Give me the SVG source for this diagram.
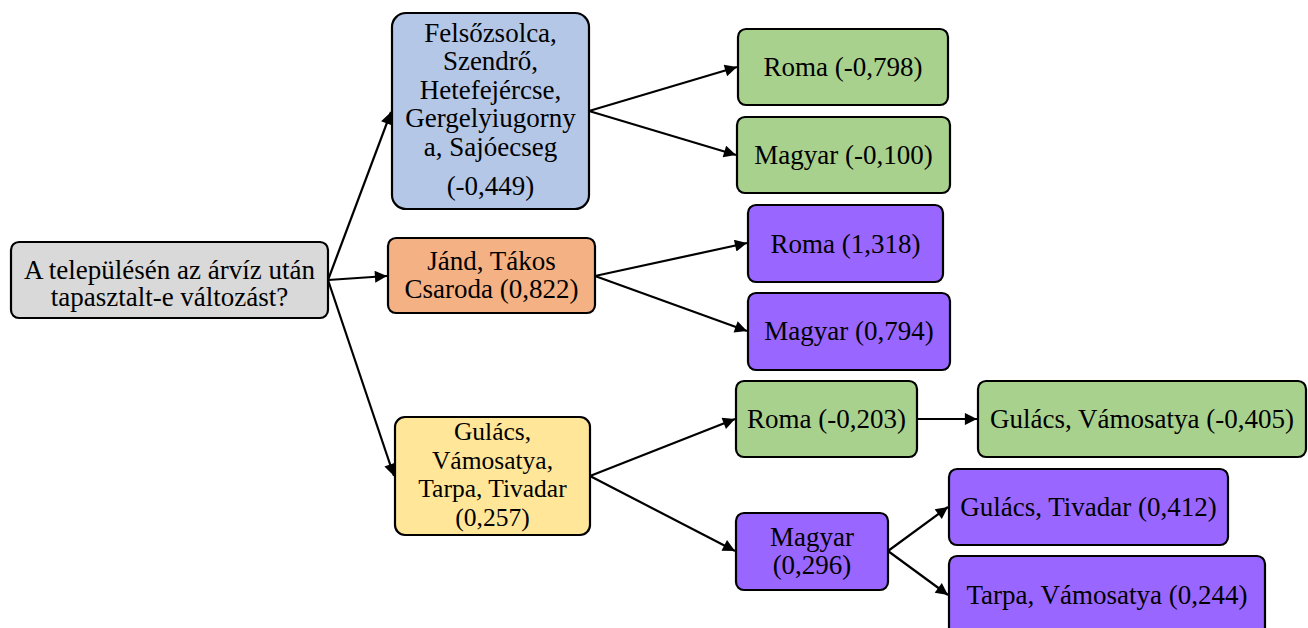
<svg xmlns="http://www.w3.org/2000/svg" width="1308" height="628" viewBox="0 0 1308 628">
<defs>
<style>
.n{stroke:#000;stroke-width:2.2}
.t{font-family:"Liberation Serif","Times New Roman",serif;font-size:27px;fill:#000;text-anchor:middle}
.s{font-size:25.5px}
.e{stroke:#000;stroke-width:2.2;fill:none}
.gray{fill:#d9d9d9}.blue{fill:#b4c7e7}.orange{fill:#f4b183}.yellow{fill:#ffe699}.green{fill:#a9d18e}.purple{fill:#9966ff}
</style>
<marker id="ah" viewBox="0 0 10 10" refX="10" refY="5" markerWidth="7" markerHeight="5.5" markerUnits="strokeWidth" orient="auto">
<path d="M0,0 L10,5 L0,10 z" fill="#000"/>
</marker>
</defs>
<rect width="1308" height="628" fill="#fff"/>
<g id="connectors">
<line class="e" x1="328" y1="280" x2="391" y2="112" marker-end="url(#ah)"/>
<line class="e" x1="328" y1="280" x2="387" y2="276" marker-end="url(#ah)"/>
<line class="e" x1="328" y1="280" x2="394" y2="476" marker-end="url(#ah)"/>
<line class="e" x1="589" y1="111" x2="737" y2="67" marker-end="url(#ah)"/>
<line class="e" x1="589" y1="111" x2="736" y2="155" marker-end="url(#ah)"/>
<line class="e" x1="595" y1="276" x2="747" y2="243" marker-end="url(#ah)"/>
<line class="e" x1="595" y1="276" x2="747" y2="331" marker-end="url(#ah)"/>
<line class="e" x1="590" y1="476" x2="735" y2="419" marker-end="url(#ah)"/>
<line class="e" x1="590" y1="476" x2="735" y2="551" marker-end="url(#ah)"/>
<line class="e" x1="917" y1="419" x2="977" y2="419" marker-end="url(#ah)"/>
<line class="e" x1="888" y1="551" x2="948" y2="507" marker-end="url(#ah)"/>
<line class="e" x1="888" y1="551" x2="948" y2="595" marker-end="url(#ah)"/>
</g>
<g id="root">
<rect class="n gray" x="11" y="242" width="317" height="76" rx="8"/>
<text class="t" x="169.5" y="279">A településén az árvíz után</text>
<text class="t" x="169.5" y="306">tapasztalt-e változást?</text>
</g>
<g id="blue">
<rect class="n blue" x="392" y="13" width="197" height="196" rx="14"/>
<text class="t" x="490.5" y="42">Felsőzsolca,</text>
<text class="t" x="490.5" y="70">Szendrő,</text>
<text class="t" x="490.5" y="99">Hetefejércse,</text>
<text class="t" x="490.5" y="127">Gergelyiugorny</text>
<text class="t" x="490.5" y="156">a, Sajóecseg</text>
<text class="t" x="490.5" y="195">(-0,449)</text>
</g>
<g id="orange">
<rect class="n orange" x="388" y="238" width="207" height="75" rx="8"/>
<text class="t" x="491.5" y="270">Jánd, Tákos</text>
<text class="t" x="491.5" y="298">Csaroda (0,822)</text>
</g>
<g id="yellow">
<rect class="n yellow" x="395" y="417" width="195" height="118" rx="10"/>
<text class="t s" x="492.5" y="440">Gulács,</text>
<text class="t s" x="492.5" y="468.5">Vámosatya,</text>
<text class="t s" x="492.5" y="497">Tarpa, Tivadar</text>
<text class="t s" x="492.5" y="525.5">(0,257)</text>
</g>
<g id="roma1">
<rect class="n green" x="738" y="29" width="210" height="76" rx="8"/>
<text class="t" x="843" y="76">Roma (-0,798)</text>
</g>
<g id="magyar1">
<rect class="n green" x="737" y="117" width="213" height="76" rx="8"/>
<text class="t" x="843.5" y="164">Magyar (-0,100)</text>
</g>
<g id="roma2">
<rect class="n purple" x="748" y="205" width="195" height="77" rx="8"/>
<text class="t" x="845.5" y="253">Roma (1,318)</text>
</g>
<g id="magyar2">
<rect class="n purple" x="748" y="293" width="202" height="77" rx="8"/>
<text class="t" x="849" y="340">Magyar (0,794)</text>
</g>
<g id="roma3">
<rect class="n green" x="736" y="381" width="181" height="76" rx="8"/>
<text class="t" x="826.5" y="428">Roma (-0,203)</text>
</g>
<g id="gv">
<rect class="n green" x="978" y="381" width="328" height="76" rx="8"/>
<text class="t" x="1142" y="428">Gulács, Vámosatya (-0,405)</text>
</g>
<g id="magyar3">
<rect class="n purple" x="736" y="513" width="152" height="77" rx="8"/>
<text class="t" x="812" y="546">Magyar</text>
<text class="t" x="812" y="574">(0,296)</text>
</g>
<g id="gt">
<rect class="n purple" x="949" y="469" width="279" height="76" rx="8"/>
<text class="t" x="1088.5" y="516">Gulács, Tivadar (0,412)</text>
</g>
<g id="tv">
<rect class="n purple" x="949" y="556" width="316" height="84" rx="8"/>
<text class="t" x="1107" y="604">Tarpa, Vámosatya (0,244)</text>
</g>
</svg>
